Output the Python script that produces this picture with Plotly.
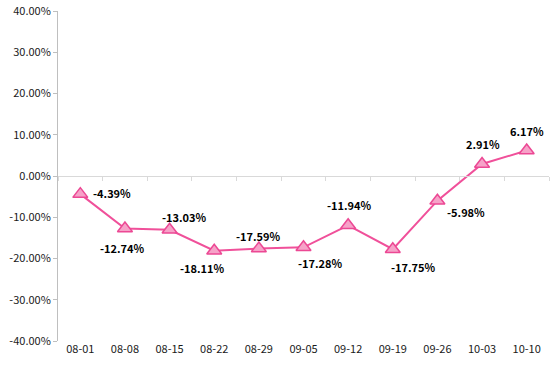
import plotly.graph_objects as go

categories = ["08-01", "08-08", "08-15", "08-22", "08-29", "09-05",
              "09-12", "09-19", "09-26", "10-03", "10-10"]
values = [-4.39, -12.74, -13.03, -18.11, -17.59, -17.28,
          -11.94, -17.75, -5.98, 2.91, 6.17]
y_ticks = [-40, -30, -20, -10, 0, 10, 20, 30, 40]

# label pixel offsets (style only): dx right, dy down
label_dx = [32, -2, 15, -12, 0, 17, 1, 21, 29, 1, 0]
label_dy = [-1, 19, -13, 17, -13, 16, -20, 18, 11, -20, -20]

FONT = "Noto Sans CJK SC, Microsoft YaHei, sans-serif"
LINE = "#F0509A"

fig = go.Figure()
fig.add_trace(go.Scatter(
    x=categories, y=values, mode="lines+markers",
    line=dict(color=LINE, width=2),
    marker=dict(symbol="triangle-up", size=13, color="#F6A2C8",
                line=dict(color="#EC4894", width=1.5)),
    hoverinfo="skip", showlegend=False,
))
# invisible trace to carry the zero-positioned axis with boundary ticks
fig.add_trace(go.Scatter(
    x=categories, y=values, xaxis="x2", mode="lines",
    line=dict(width=0), opacity=0, hoverinfo="skip", showlegend=False,
))

for c, v, dx, dy in zip(categories, values, label_dx, label_dy):
    fig.add_annotation(
        x=c, y=v, xref="x", yref="y", text=f"{v:.2f}%", showarrow=False,
        xshift=dx, yshift=-dy, xanchor="center", yanchor="middle",
        font=dict(family=FONT, size=11, color="#000000", weight="bold"),
    )

fig.update_layout(
    width=554, height=376,
    margin=dict(l=58, r=5, t=11, b=35, autoexpand=False),
    paper_bgcolor="white", plot_bgcolor="white",
    font=dict(family=FONT, size=11, color="#1a1a1a"),
    xaxis=dict(
        type="category", categoryorder="array", categoryarray=categories,
        range=[-0.5, len(categories) - 0.5],
        showline=False, showgrid=False, zeroline=False, ticks="",
        tickfont=dict(family=FONT, size=11, color="#1a1a1a"),
    ),
    xaxis2=dict(
        type="category", categoryorder="array", categoryarray=categories,
        range=[-0.5, len(categories) - 0.5],
        overlaying="x", anchor="free", position=0.5, side="bottom",
        showline=True, linecolor="#D9D9D9", linewidth=1,
        ticks="outside", tickson="boundaries", ticklen=4, tickcolor="#D9D9D9",
        showticklabels=False, showgrid=False, zeroline=False,
    ),
    yaxis=dict(
        range=[-40, 40], tickvals=y_ticks,
        ticktext=[f"{t:.2f}%" for t in y_ticks],
        showline=True, linecolor="#BFBFBF", linewidth=1,
        ticks="outside", ticklen=4, tickcolor="#BFBFBF",
        showgrid=False, zeroline=False,
        tickfont=dict(family=FONT, size=11, color="#1a1a1a"),
    ),
)

fig.write_html(
    "out.html",
    config={"displayModeBar": False, "staticPlot": True},
    post_script="document.body.style.margin='0';document.body.style.overflow='hidden';",
)
